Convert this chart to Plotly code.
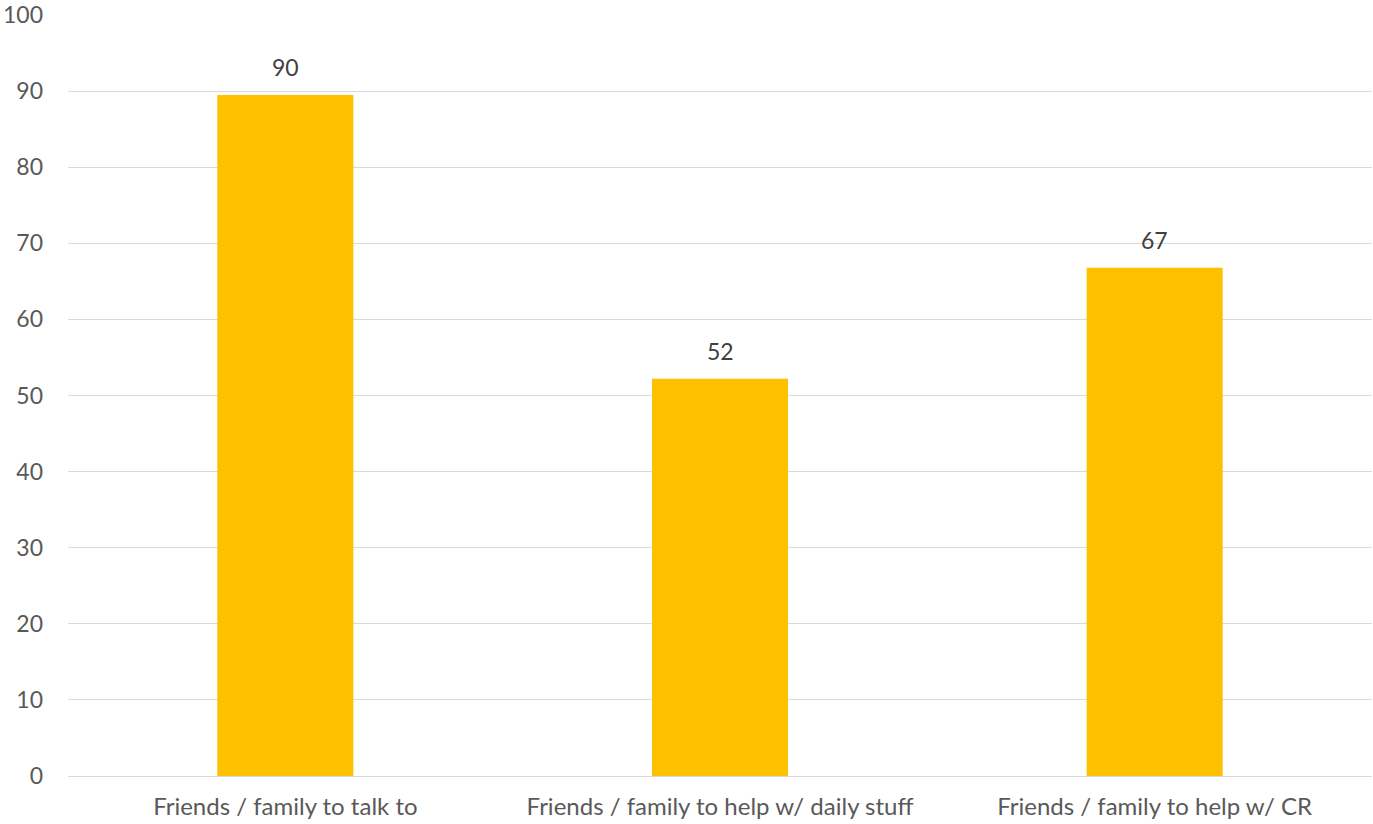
import plotly.graph_objects as go

categories = ["Friends / family to talk to", "Friends / family to help w/ daily stuff", "Friends / family to help w/ CR"]
values = [89.5, 52.2, 66.8]
y_ticks = [0, 10, 20, 30, 40, 50, 60, 70, 80, 90, 100]

FONT = "Lato, Open Sans, sans-serif"

fig = go.Figure(go.Bar(
    x=categories, y=values,
    marker=dict(color="#FFC000", line=dict(width=0)),
    hoverinfo="x+y",
))

for c, v in zip(categories, values):
    fig.add_annotation(x=c, y=v, text=f"{v:.0f}", showarrow=False,
                       yanchor="bottom", yshift=12,
                       font=dict(family=FONT, size=23, color="#404040"))

fig.update_layout(
    width=1373, height=824,
    margin=dict(l=68, r=1, t=15, b=48),
    plot_bgcolor="white", paper_bgcolor="white",
    bargap=0.687,
    showlegend=False,
    font=dict(family=FONT, size=23, color="#595959"),
)
fig.update_yaxes(range=[0, 100], tickvals=y_ticks, showgrid=True, gridcolor="#d9d9d9", gridwidth=1,
                 zeroline=False, showline=False, ticks="", ticklabelstandoff=24)
fig.update_xaxes(showline=True, linecolor="#d9d9d9", linewidth=1, ticks="outside", ticklen=9,
                 tickcolor="rgba(0,0,0,0)", tickfont=dict(size=24))

fig.write_html("out.html", config={"displayModeBar": False},
               post_script="document.body.style.margin='0';document.body.style.overflow='hidden';")
